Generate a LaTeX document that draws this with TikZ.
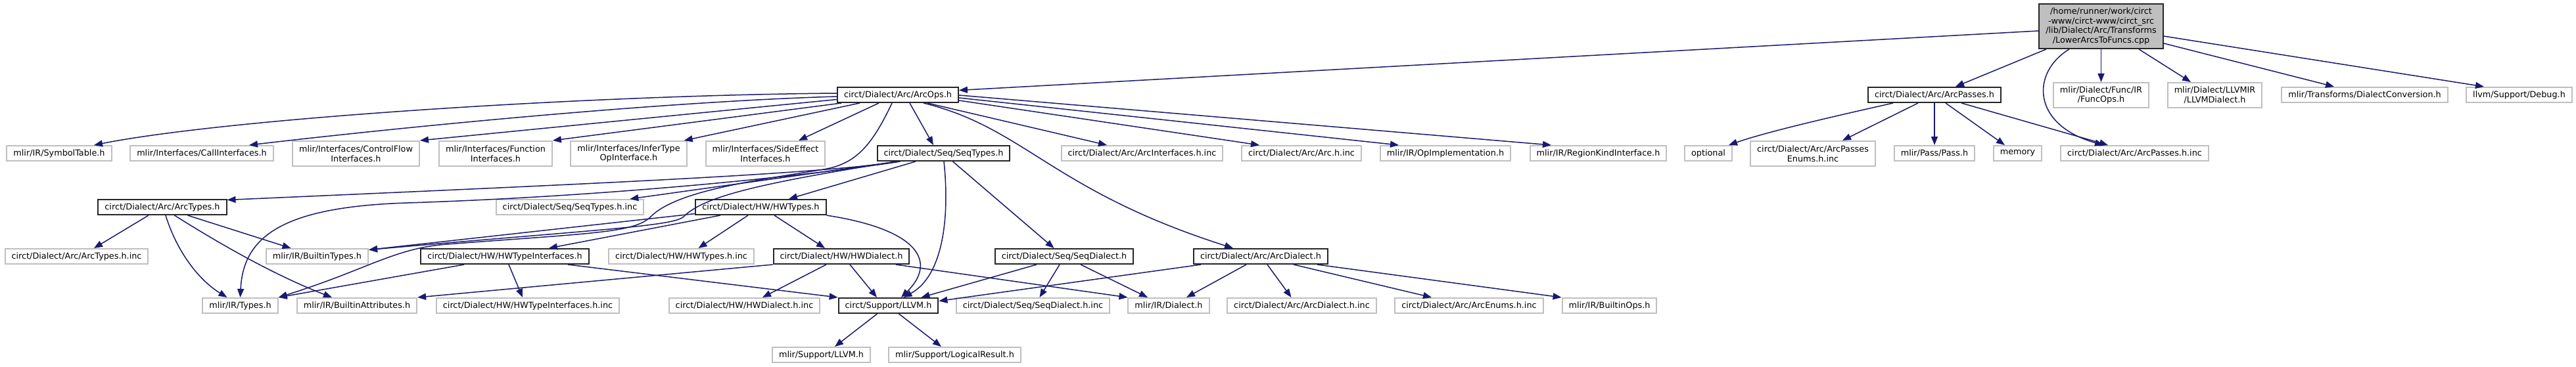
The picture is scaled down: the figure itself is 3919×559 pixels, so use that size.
\documentclass[tikz,border=0pt]{standalone}
\usepackage{fontspec}
\setmainfont{DejaVu Sans}
\usetikzlibrary{arrows.meta}
\definecolor{edgeblue}{HTML}{191970}
\definecolor{boxgrey}{HTML}{BFBFBF}

\begin{document}
\begin{tikzpicture}[
    x=1pt,
    y=-1pt,
    every node/.style={
        font=\fontsize{12.8pt}{14.7pt}\selectfont
    },
    header/.style={
        draw=boxgrey,
        line width=2pt,
        fill=white,
        align=center,
        inner xsep=10pt,
        inner ysep=2pt,
        minimum height=23pt
    },
    docheader/.style={header, draw=black!85},
    twoline/.style={minimum height=38pt},
    rootfile/.style={docheader, fill=boxgrey, minimum height=68pt},
    edge/.style={
        draw=edgeblue,
        line width=1.5pt,
        -{Triangle[length=13pt,width=10pt]}
    }
]

    % Canvas
    \fill[white] (0,0) rectangle (3919,559);
    \useasboundingbox (0,0) rectangle (3919,559);

    % Source file
    \node[rootfile] (root) at (3196.5,40)
        {/home/runner/work/circt\\-www/circt-www/circt\_src\\/lib/Dialect/Arc/Transforms\\/LowerArcsToFuncs.cpp};

    % Direct includes
    \node[docheader] (arcops) at (1366,144.5) {circt/Dialect/Arc/ArcOps.h};
    \node[docheader] (arcpasses) at (2943,144.5) {circt/Dialect/Arc/ArcPasses.h};
    \node[header, twoline] (funcops) at (3196.5,145) {mlir/Dialect/Func/IR\\/FuncOps.h};
    \node[header, twoline] (llvmdialect) at (3369.5,145) {mlir/Dialect/LLVMIR\\/LLVMDialect.h};
    \node[header] (dialectconv) at (3597.5,144.5) {mlir/Transforms/DialectConversion.h};
    \node[header] (debug) at (3832.5,144.5) {llvm/Support/Debug.h};

    % Second level
    \node[header] (symtable) at (90,233.5) {mlir/IR/SymbolTable.h};
    \node[header] (callif) at (307,233.5) {mlir/Interfaces/CallInterfaces.h};
    \node[header, twoline] (cflowif) at (541.5,234) {mlir/Interfaces/ControlFlow\\Interfaces.h};
    \node[header, twoline] (funcif) at (754,234) {mlir/Interfaces/Function\\Interfaces.h};
    \node[header, twoline] (infertype) at (956.5,234) {mlir/Interfaces/InferType\\OpInterface.h};
    \node[header, twoline] (sideeffect) at (1164.5,234) {mlir/Interfaces/SideEffect\\Interfaces.h};
    \node[docheader] (seqtypes) at (1435.5,233.5) {circt/Dialect/Seq/SeqTypes.h};
    \node[header] (arcifinc) at (1737.5,233.5) {circt/Dialect/Arc/ArcInterfaces.h.inc};
    \node[header] (archinc) at (1980,233.5) {circt/Dialect/Arc/Arc.h.inc};
    \node[header] (opimpl) at (2199,233.5) {mlir/IR/OpImplementation.h};
    \node[header] (regionkind) at (2431.5,233.5) {mlir/IR/RegionKindInterface.h};
    \node[header] (optional) at (2599,233.5) {optional};
    \node[header, twoline] (passesenums) at (2758,234) {circt/Dialect/Arc/ArcPasses\\Enums.h.inc};
    \node[header] (passh) at (2943,233.5) {mlir/Pass/Pass.h};
    \node[header] (memory) at (3069.5,233.5) {memory};
    \node[header] (arcpassesinc) at (3247.5,233.5) {circt/Dialect/Arc/ArcPasses.h.inc};

    % Third level
    \node[docheader] (arctypes) at (247,315.5) {circt/Dialect/Arc/ArcTypes.h};
    \node[header] (seqtypesinc) at (867,315.5) {circt/Dialect/Seq/SeqTypes.h.inc};
    \node[docheader] (hwtypes) at (1157.5,315.5) {circt/Dialect/HW/HWTypes.h};

    % Fourth level
    \node[header] (arctypesinc) at (116.5,390.5) {circt/Dialect/Arc/ArcTypes.h.inc};
    \node[header] (builtintypes) at (482.5,390.5) {mlir/IR/BuiltinTypes.h};
    \node[docheader] (hwtypeif) at (768,390.5) {circt/Dialect/HW/HWTypeInterfaces.h};
    \node[header] (hwtypesinc) at (1036.5,390.5) {circt/Dialect/HW/HWTypes.h.inc};
    \node[docheader] (hwdialect) at (1280,390.5) {circt/Dialect/HW/HWDialect.h};
    \node[docheader] (seqdialect) at (1619,390.5) {circt/Dialect/Seq/SeqDialect.h};
    \node[docheader] (arcdialect) at (1918,390.5) {circt/Dialect/Arc/ArcDialect.h};

    % Fifth level
    \node[header] (types) at (365.5,465.5) {mlir/IR/Types.h};
    \node[header] (builtinattr) at (543,465.5) {mlir/IR/BuiltinAttributes.h};
    \node[header] (hwtypeifinc) at (803,465.5) {circt/Dialect/HW/HWTypeInterfaces.h.inc};
    \node[header] (hwdialectinc) at (1132.5,465.5) {circt/Dialect/HW/HWDialect.h.inc};
    \node[docheader] (llvmh) at (1351.5,465.5) {circt/Support/LLVM.h};
    \node[header] (seqdialectinc) at (1571.5,465.5) {circt/Dialect/Seq/SeqDialect.h.inc};
    \node[header] (dialecth) at (1778,465.5) {mlir/IR/Dialect.h};
    \node[header] (arcdialectinc) at (1980.5,465.5) {circt/Dialect/Arc/ArcDialect.h.inc};
    \node[header] (arcenumsinc) at (2235,465.5) {circt/Dialect/Arc/ArcEnums.h.inc};
    \node[header] (builtinops) at (2448.5,465.5) {mlir/IR/BuiltinOps.h};

    % Bottom level
    \node[header] (mlirllvm) at (1249.5,540.5) {mlir/Support/LLVM.h};
    \node[header] (logicalresult) at (1452.5,540.5) {mlir/Support/LogicalResult.h};

    % Edges from the source file
    \draw[edge] ([yshift=-7pt]root.west) -- ([yshift=7pt]arcops.east);
    \draw[edge] ([xshift=-83.5pt]root.south) -- ([xshift=32pt]arcpasses.north);
    \draw[edge] ([xshift=-48.5pt]root.south)
        .. controls (3090,110) and (3090,190) .. ([xshift=-47.5pt]arcpassesinc.north);
    \draw[edge] (root) -- (funcops);
    \draw[edge] ([xshift=57.5pt]root.south) -- ([xshift=-36.5pt]llvmdialect.north);
    \draw[edge] ([yshift=-26pt]root.east) -- ([xshift=-46.5pt]dialectconv.north);
    \draw[edge] ([yshift=-15pt]root.east) -- ([xshift=-53.5pt]debug.north);

    % ArcPasses.h
    \draw[edge] ([xshift=-63pt]arcpasses.south)
        .. controls (2800,175) and (2690,200) .. ([xshift=31pt]optional.north);
    \draw[edge] ([xshift=-25pt]arcpasses.south) -- ([xshift=45pt]passesenums.north);
    \draw[edge] (arcpasses) -- (passh);
    \draw[edge] ([xshift=17pt]arcpasses.south) -- ([xshift=-19.5pt]memory.north);
    \draw[edge] ([xshift=41pt]arcpasses.south) -- ([xshift=-40.5pt]arcpassesinc.north);

    % ArcOps.h
    \draw[edge] ([yshift=2.5pt]arcops.west)
        .. controls (900,145) and (350,180) .. ([xshift=53pt]symtable.north);
    \draw[edge] ([yshift=-2.5pt]arcops.west)
        .. controls (1000,155) and (600,195) .. ([xshift=72pt]callif.north);
    \draw[edge] ([yshift=-7pt]arcops.west) -- (cflowif.north east);
    \draw[edge] ([xshift=-86pt]arcops.south) -- (funcif.north east);
    \draw[edge] ([xshift=-58pt]arcops.south) -- ([xshift=-5pt]infertype.north east);
    \draw[edge] ([xshift=-29pt]arcops.south) -- ([xshift=50.5pt]sideeffect.north);
    \draw[edge] ([xshift=18pt]arcops.south) -- ([xshift=-15.5pt]seqtypes.north);
    \draw[edge] ([xshift=45pt]arcops.south) -- ([xshift=-53.5pt]arcifinc.north);
    \draw[edge] ([yshift=-8.5pt]arcops.east) -- ([xshift=-64pt]archinc.north);
    \draw[edge] ([yshift=-4.5pt]arcops.east) -- ([xshift=-71pt]opimpl.north);
    \draw[edge] ([yshift=-0.5pt]arcops.east) -- ([xshift=-71.5pt]regionkind.north);
    \draw[edge] ([xshift=39pt]arcops.south)
        .. controls (1560,195) and (1600,290) .. ([xshift=-42pt]arcdialect.north);
    \draw[edge] ([xshift=-9pt]arcops.south)
        .. controls (1325,225) and (1300,250) .. (1253,258)
        .. controls (1150,275) and (1030,290) .. (990,330)
        .. controls (965,355) and (900,355) .. (680,372)
        .. controls (600,378) and (560,410) .. (types.north east);

    % SeqTypes.h
    \draw[edge] ([xshift=-68.5pt]seqtypes.south)
        .. controls (1250,265) and (900,280) .. ([yshift=11pt]arctypes.east);
    \draw[edge] ([xshift=-66pt]seqtypes.south)
        .. controls (1200,272) and (900,300) .. (620,309)
        .. controls (430,315) and (370,360) .. (types.north);
    \draw[edge] ([xshift=-70pt]seqtypes.south) -- ([xshift=-22pt]seqtypesinc.north east);
    \draw[edge] ([xshift=-72pt]seqtypes.south)
        .. controls (1150,280) and (1070,300) .. (1040,330)
        .. controls (1025,345) and (900,350) .. ([yshift=10pt]builtintypes.east);
    \draw[edge] ([xshift=-42.5pt]seqtypes.south) -- ([xshift=42.5pt]hwtypes.north);
    \draw[edge] ([xshift=0.5pt]seqtypes.south)
        .. controls (1445,330) and (1435,420) .. ([xshift=23pt]llvmh.north);
    \draw[edge] ([xshift=14pt]seqtypes.south) -- ([xshift=-15.5pt]seqdialect.north);

    % HWTypes.h
    \draw[edge] ([yshift=-10pt]hwtypes.west) -- ([yshift=10pt]builtintypes.east);
    \draw[edge] ([xshift=-61.5pt]hwtypes.south) -- ([xshift=67pt]hwtypeif.north);
    \draw[edge] ([xshift=-19.5pt]hwtypes.south) -- ([xshift=26pt]hwtypesinc.north);
    \draw[edge] ([xshift=20.5pt]hwtypes.south) -- ([xshift=-25pt]hwdialect.north);
    \draw[edge] (hwtypes.south east)
        .. controls (1400,350) and (1425,400) .. ([xshift=19.5pt]llvmh.north);

    % ArcTypes.h
    \draw[edge] ([xshift=-21pt]arctypes.south) -- ([xshift=26.5pt]arctypesinc.north);
    \draw[edge] ([xshift=5pt]arctypes.south)
        .. controls (268,380) and (300,425) .. ([xshift=-20pt]types.north);
    \draw[edge] ([xshift=18.5pt]arctypes.south)
        .. controls (340,375) and (420,420) .. ([xshift=-38pt]builtinattr.north);
    \draw[edge] ([xshift=38.5pt]arctypes.south) -- ([xshift=-40pt]builtintypes.north);

    % HWTypeInterfaces.h
    \draw[edge] ([xshift=-62pt]hwtypeif.south) -- (types.north east);
    \draw[edge] ([xshift=6pt]hwtypeif.south) -- ([xshift=-8pt]hwtypeifinc.north);
    \draw[edge] ([xshift=96pt]hwtypeif.south) -- (llvmh.north west);

    % HWDialect.h
    \draw[edge] (hwdialect.south west) -- (builtinattr.north east);
    \draw[edge] ([xshift=-23pt]hwdialect.south) -- ([xshift=27.5pt]hwdialectinc.north);
    \draw[edge] ([xshift=13pt]hwdialect.south) -- ([xshift=-17.5pt]llvmh.north);
    \draw[edge] ([xshift=83pt]hwdialect.south) -- (dialecth.north west);

    % SeqDialect.h
    \draw[edge] ([xshift=-42pt]seqdialect.south) -- ([xshift=50pt]llvmh.north);
    \draw[edge] ([xshift=-7pt]seqdialect.south) -- ([xshift=10pt]seqdialectinc.north);
    \draw[edge] ([xshift=25pt]seqdialect.south) -- ([xshift=-32pt]dialecth.north);

    % ArcDialect.h
    \draw[edge] ([xshift=-91pt]arcdialect.south) -- ([yshift=7pt]llvmh.east);
    \draw[edge] ([xshift=-22pt]arcdialect.south) -- ([xshift=27pt]dialecth.north);
    \draw[edge] ([xshift=10pt]arcdialect.south) -- ([xshift=-16pt]arcdialectinc.north);
    \draw[edge] ([xshift=50pt]arcdialect.south) -- ([xshift=-57pt]arcenumsinc.north);
    \draw[edge] ([xshift=86pt]arcdialect.south) -- (builtinops.north west);

    % circt/Support/LLVM.h
    \draw[edge] ([xshift=-17pt]llvmh.south) -- ([xshift=20.5pt]mlirllvm.north);
    \draw[edge] ([xshift=16pt]llvmh.south) -- ([xshift=-20.5pt]logicalresult.north);

\end{tikzpicture}
\end{document}
